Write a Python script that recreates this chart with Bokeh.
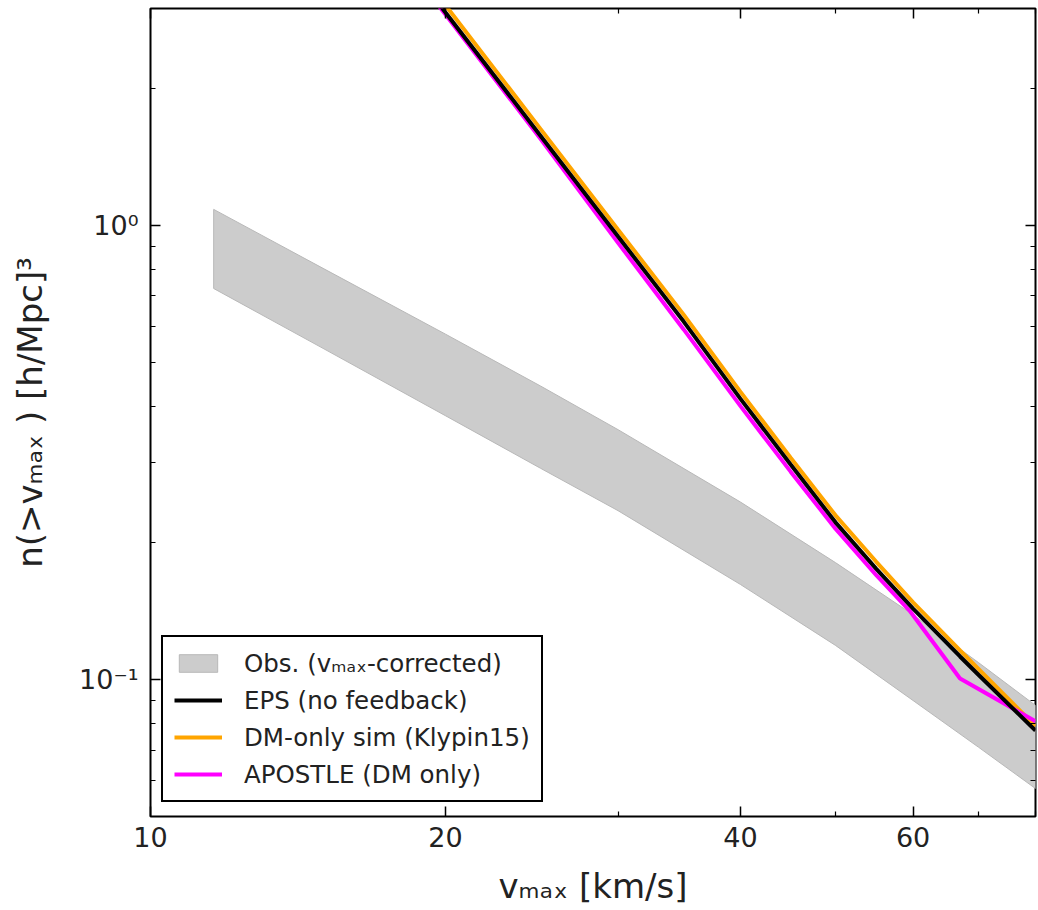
from bokeh.plotting import figure
from bokeh.models import (FixedTicker, LogAxis, Legend, LegendItem)
from bokeh.embed import file_html
from bokeh.resources import INLINE

# ---------------- data ----------------
band_v = [11.6, 15, 20, 25, 30, 40, 50, 60, 70, 80]
band_hi = [1.084, 0.804, 0.576, 0.443, 0.355, 0.246, 0.181, 0.139, 0.109, 0.0878]
band_lo = [0.726, 0.536, 0.381, 0.292, 0.2355, 0.162, 0.119, 0.090, 0.071, 0.0576]

eps_v = [19, 20, 25, 30, 35, 40, 45, 50, 55, 60, 67, 70, 80]
eps_n = [3.40, 2.94, 1.575, 0.945, 0.614, 0.415, 0.2975, 0.222, 0.1756, 0.1434, 0.1125, 0.1024, 0.0773]

kly_v = [19, 20, 25, 30, 35, 40, 45, 50, 55, 60, 67, 70, 80]
kly_n = [3.52, 3.05, 1.63, 0.978, 0.636, 0.43, 0.308, 0.23, 0.182, 0.148, 0.116, 0.1055, 0.079]

apo_v = [19, 20, 25, 30, 35, 40, 45, 50, 55, 59.5, 67, 80]
apo_n = [3.35, 2.91, 1.55, 0.915, 0.59, 0.40, 0.287, 0.215, 0.170, 0.142, 0.1006, 0.081]

x_major = [10, 20, 40, 60]
x_minor = [30, 50, 70, 80]
x_labels = {10: "10", 20: "20", 40: "40", 60: "60"}
y_major = [0.1, 1]
y_minor = [0.05, 0.06, 0.07, 0.08, 0.09, 0.2, 0.3, 0.4, 0.5, 0.6, 0.7, 0.8, 0.9, 2, 3]
y_labels = {0.1: "10\u207b\u00b9", 1: "10\u2070"}

legend_labels = ["Obs. (v\u2098\u2090\u2093-corrected)", "EPS (no feedback)",
                 "DM-only sim (Klypin15)", "APOSTLE (DM only)"]

FONT = "DejaVu Sans"

p = figure(width=1038, height=910, x_axis_type="log", y_axis_type="log",
           x_range=(10, 80), y_range=(0.05, 3),
           output_backend="svg", toolbar_location=None,
           min_border_left=150, min_border_right=3, min_border_top=8,
           min_border_bottom=94)
p.background_fill_color = "white"
p.border_fill_color = "white"
p.grid.visible = False
p.outline_line_color = "black"
p.outline_line_width = 2
p.outline_line_alpha = 1

# band
poly_x = band_v + band_v[::-1]
poly_y = band_hi + band_lo[::-1]
r_band = p.patch(poly_x, poly_y, fill_color="#cccccc", line_color="#b8b8b8", line_width=1)

r_kly = p.line(kly_v, kly_n, line_color="#FFA500", line_width=4)
r_apo = p.line(apo_v, apo_n, line_color="#FF00FF", line_width=4)
r_eps = p.line(eps_v, eps_n, line_color="black", line_width=4)

def style_axis(ax, show_labels=True):
    ax.axis_line_color = None
    ax.major_tick_in = 10
    ax.major_tick_out = 0
    ax.minor_tick_in = 5
    ax.minor_tick_out = 0
    ax.major_tick_line_color = "black"
    ax.minor_tick_line_color = "black"
    ax.major_tick_line_width = 1.5
    ax.minor_tick_line_width = 1.2
    if show_labels:
        ax.major_label_text_font = FONT
        ax.major_label_text_font_size = "27px"
        ax.major_label_text_color = "#222222"
        ax.axis_label_text_font = FONT
        ax.axis_label_text_font_size = "34px"
        ax.axis_label_text_font_style = "normal"
        ax.axis_label_text_color = "#222222"
    else:
        ax.major_label_text_font_size = "2px"
        ax.major_label_text_color = None
        ax.major_label_standoff = 0

xt = FixedTicker(ticks=x_major, minor_ticks=x_minor)
yt = FixedTicker(ticks=y_major, minor_ticks=y_minor)

xa = p.xaxis[0]
xa.ticker = xt
xa.major_label_overrides = x_labels
xa.axis_label = "v\u2098\u2090\u2093 [km/s]"
style_axis(xa)
xa.major_label_standoff = 10
xa.axis_label_standoff = 16

ya = p.yaxis[0]
ya.ticker = yt
ya.major_label_overrides = y_labels
ya.axis_label = "n(>v\u2098\u2090\u2093 ) [h/Mpc]\u00b3"
style_axis(ya)
ya.major_label_standoff = 12
ya.axis_label_standoff = 26

top = LogAxis(ticker=FixedTicker(ticks=x_major, minor_ticks=x_minor))
style_axis(top, False)
p.add_layout(top, "above")
right = LogAxis(ticker=FixedTicker(ticks=y_major, minor_ticks=y_minor))
style_axis(right, False)
p.add_layout(right, "right")

legend = Legend(items=[
    LegendItem(label=legend_labels[0], renderers=[r_band]),
    LegendItem(label=legend_labels[1], renderers=[r_eps]),
    LegendItem(label=legend_labels[2], renderers=[r_kly]),
    LegendItem(label=legend_labels[3], renderers=[r_apo]),
], location=(11, 14))
legend.border_line_color = "black"
legend.border_line_width = 2
legend.border_line_alpha = 1
legend.background_fill_color = "white"
legend.background_fill_alpha = 1
legend.label_text_font = FONT
legend.label_text_font_size = "24.5px"
legend.label_text_color = "#222222"
legend.glyph_width = 48
legend.glyph_height = 22
legend.label_height = 30
legend.label_standoff = 22
legend.spacing = 7
legend.padding = 11
legend.margin = 0
p.add_layout(legend, "center")

open("out.html", "w").write(file_html(p, INLINE))
